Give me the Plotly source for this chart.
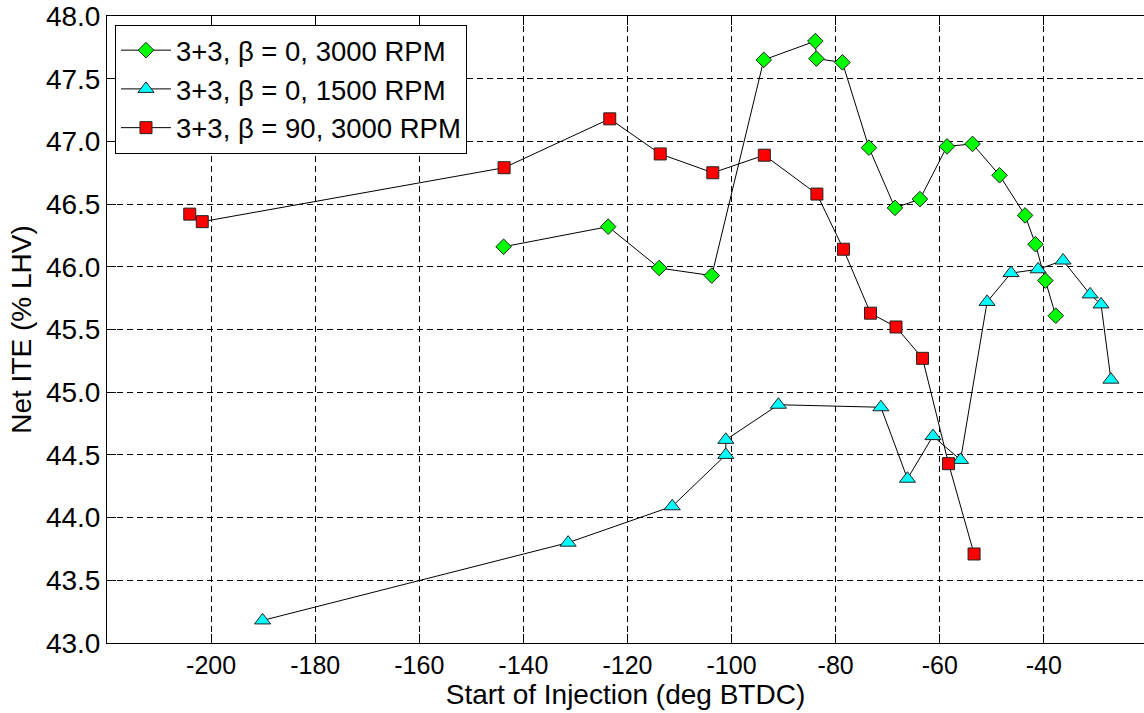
import plotly.graph_objects as go

# Series data
soi_green = [-143.8, -123.7, -113.9, -103.8, -93.8, -83.9, -83.7, -78.7, -73.6, -68.6,
             -63.8, -58.6, -53.7, -48.5, -43.6, -41.6, -39.7, -37.7]
ite_green = [46.16, 46.32, 45.99, 45.93, 47.65, 47.80, 47.66, 47.63, 46.95, 46.47,
             46.54, 46.96, 46.98, 46.73, 46.41, 46.18, 45.89, 45.61]

soi_cyan = [-190.1, -131.4, -111.4, -101.1, -101.1, -91.0, -71.3, -66.2, -61.3, -56.0,
            -50.9, -46.3, -41.1, -36.3, -31.1, -29.0, -27.1]
ite_cyan = [43.18, 43.80, 44.09, 44.50, 44.62, 44.90, 44.88, 44.31, 44.65, 44.46,
            45.72, 45.95, 45.98, 46.05, 45.78, 45.70, 45.10]

soi_red = [-204.1, -201.7, -143.7, -123.4, -113.7, -103.6, -93.7, -83.6, -78.5, -73.3,
           -68.4, -63.3, -58.3, -53.4]
ite_red = [46.42, 46.36, 46.79, 47.18, 46.90, 46.75, 46.89, 46.58, 46.14, 45.63,
           45.52, 45.27, 44.43, 43.71]

names = ["3+3, β = 0, 3000 RPM", "3+3, β = 0, 1500 RPM", "3+3, β = 90, 3000 RPM"]

x_ticks = [-200, -180, -160, -140, -120, -100, -80, -60, -40]
y_ticks = [43.0, 43.5, 44.0, 44.5, 45.0, 45.5, 46.0, 46.5, 47.0, 47.5, 48.0]

FONT = "Liberation Sans, Arial, sans-serif"

fig = go.Figure()
fig.add_trace(go.Scatter(
    x=soi_green, y=ite_green, mode="lines+markers", name=names[0],
    line=dict(color="black", width=1),
    marker=dict(symbol="diamond", size=12, color="#00FF00",
                line=dict(color="#222222", width=1)),
))
fig.add_trace(go.Scatter(
    x=soi_cyan, y=ite_cyan, mode="lines+markers", name=names[1],
    line=dict(color="black", width=1),
    marker=dict(symbol="triangle-up", size=14, color="#00FFFF",
                line=dict(color="#222222", width=1)),
))
fig.add_trace(go.Scatter(
    x=soi_red, y=ite_red, mode="lines+markers", name=names[2],
    line=dict(color="black", width=1),
    marker=dict(symbol="square", size=12, color="#FF0000",
                line=dict(color="#222222", width=1)),
))

fig.update_layout(
    width=1144, height=713,
    margin=dict(l=107, r=0, t=16, b=70),
    paper_bgcolor="white", plot_bgcolor="white",
    font=dict(family=FONT, size=27, color="black"),
    showlegend=True,
    legend=dict(
        x=0.0077, y=0.986, xanchor="left", yanchor="top",
        bgcolor="white", bordercolor="black", borderwidth=1,
        font=dict(family=FONT, size=27.5, color="black"),
        tracegroupgap=0, itemwidth=50,
    ),
)
fig.update_xaxes(
    range=[-220, -20.75], tickmode="array", tickvals=x_ticks,
    ticktext=[str(v) for v in x_ticks],
    showgrid=True, gridcolor="black", griddash="6px,4px", gridwidth=1,
    showline=True, linecolor="black", linewidth=1, mirror="ticks",
    ticks="inside", ticklen=9, tickcolor="black",
    zeroline=False,
    tickfont=dict(family=FONT, size=25),
    title=dict(text="Start of Injection (deg BTDC)", font=dict(family=FONT, size=28), standoff=3),
)
fig.update_yaxes(
    range=[43, 48], tickmode="array", tickvals=y_ticks,
    ticktext=[f"{v:.1f}" for v in y_ticks],
    showgrid=True, gridcolor="black", griddash="6px,4px", gridwidth=1,
    showline=True, linecolor="black", linewidth=1, mirror=False,
    ticks="inside", ticklen=9, tickcolor="black",
    zeroline=False,
    tickfont=dict(family=FONT, size=28),
    title=dict(text="Net ITE (% LHV)", font=dict(family=FONT, size=28), standoff=6),
)

fig.write_html("out.html")
